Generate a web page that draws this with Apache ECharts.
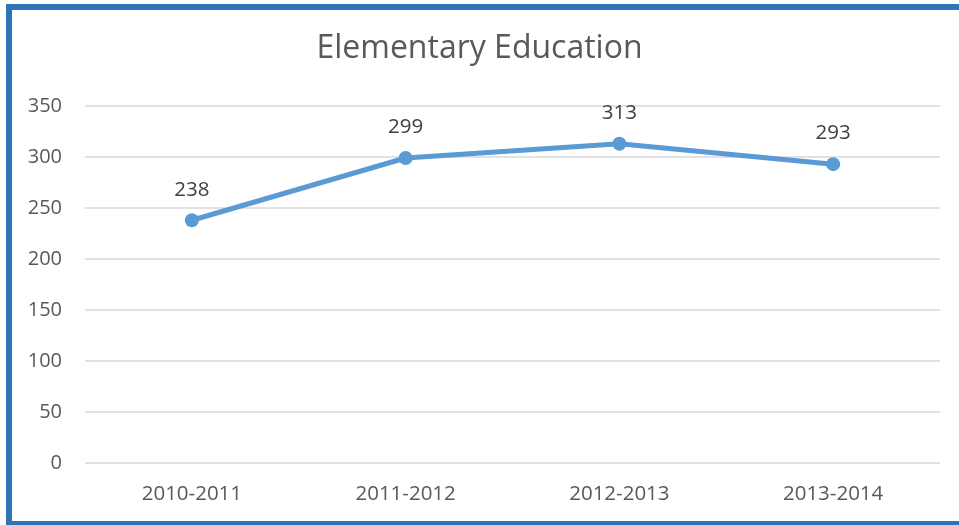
<!DOCTYPE html>
<html>
<head>
<meta charset="utf-8">
<script src="https://cdn.jsdelivr.net/npm/echarts@6/dist/echarts.min.js"></script>
<style>
html,body{margin:0;padding:0;background:#fff;overflow:hidden;width:959px;height:525px;}
#frame{position:absolute;left:6px;top:4px;width:953px;height:523px;border-left:6px solid #2E75B6;border-top:6px solid #2E75B6;border-bottom:6px solid #2E75B6;border-right:none;box-sizing:border-box;}
#chart{position:absolute;left:0;top:0;width:959px;height:525px;}
</style>
</head>
<body>
<div id="frame"></div>
<div id="chart"></div>
<script>
const categories = ['2010-2011', '2011-2012', '2012-2013', '2013-2014'];
const values = [238, 299, 313, 293];
const yTicks = { min: 0, max: 350, interval: 50 };
const titleText = 'Elementary Education';

const chart = echarts.init(document.getElementById('chart'), null, { renderer: 'canvas' });
const font = '"Open Sans", "Liberation Sans", sans-serif';
chart.setOption({
  animation: false,
  title: {
    text: titleText,
    left: 'center',
    top: 28,
    textStyle: { fontFamily: font, fontSize: 32, fontWeight: 'normal', color: '#595959' }
  },
  grid: { left: 85, right: 19, top: 106, bottom: 62, containLabel: false },
  xAxis: {
    type: 'category',
    data: categories,
    boundaryGap: true,
    axisLine: { show: false },
    axisTick: { show: false },
    axisLabel: { fontFamily: font, fontSize: 20.5, color: '#595959', margin: 21 }
  },
  yAxis: {
    type: 'value',
    min: yTicks.min,
    max: yTicks.max,
    interval: yTicks.interval,
    axisLine: { show: false },
    axisTick: { show: false },
    axisLabel: { fontFamily: font, fontSize: 20, color: '#595959', margin: 23 },
    splitLine: { lineStyle: { color: '#D9D9D9', width: 1.5 } }
  },
  series: [{
    type: 'line',
    data: values,
    symbol: 'circle',
    symbolSize: 14,
    itemStyle: { color: '#5B9BD5' },
    lineStyle: { color: '#5B9BD5', width: 5 },
    label: {
      show: true,
      position: 'top',
      distance: 13,
      fontFamily: font,
      fontSize: 20.5,
      color: '#404040'
    }
  }]
});
</script>
</body>
</html>
